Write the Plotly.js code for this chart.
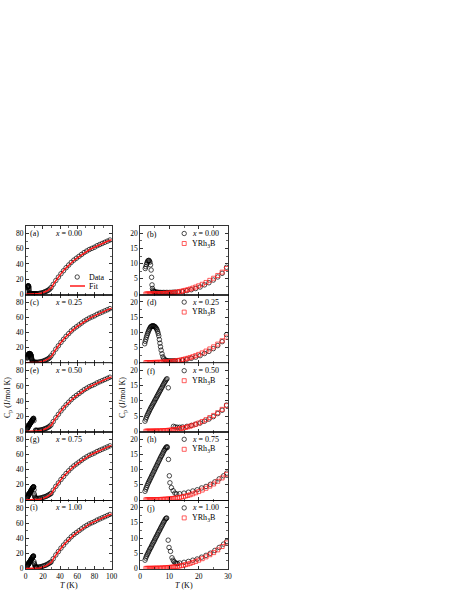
<!DOCTYPE html>
<html>
<head>
<meta charset="utf-8">
<script src="https://cdn.plot.ly/plotly-3.0.1.min.js"></script>
<style>
body{margin:0;background:#fff}
#myDiv{width:457px;height:591px}
</style>
</head>
<body>
<div id="myDiv"></div>
<script>
// compositions and panel letters
let samples = ["0.00", "0.25", "0.50", "0.75", "1.00"]
let panelLeft = ["(a)", "(c)", "(e)", "(g)", "(i)"]
let panelRight = ["(b)", "(d)", "(f)", "(h)", "(j)"]

// low temperature Cp data (T in K, Cp in J/mol K), one pair per sample
let lowT0 = [1.8,2.0,2.2,2.4,2.6,2.8,3.0,3.2,3.4,3.6,3.8,3.95,4.1,4.25,4.4,4.6,4.8,5.1,5.4,5.8,6.2,6.6,7.0,7.5,8.0,8.5,9.0,9.5,10.0,10.5,11.0,11.5,12.0,13.0,14.5,16.0,17.5,19.0,20.5,22.0,23.5,25.0,26.5,28.0,29.5]
let lowCp0 = [8.4,9.0,9.7,10.3,10.8,11.0,11.1,10.9,10.5,9.6,7.9,5.5,3.0,1.8,1.2,0.9,0.8,0.7,0.65,0.6,0.55,0.5,0.5,0.5,0.5,0.5,0.5,0.5,0.5,0.5,0.55,0.55,0.6,0.65,0.8,1.1,1.4,1.8,2.3,3.0,3.7,4.6,5.6,6.8,8.8]

let lowT1 = [1.6,1.8,2.0,2.2,2.4,2.6,2.8,3.0,3.2,3.4,3.6,3.8,4.0,4.2,4.4,4.6,4.8,5.0,5.2,5.4,5.6,5.8,6.0,6.2,6.4,6.6,6.8,7.0,7.2,7.5,7.8,8.1,8.5,9.0,9.5,10.0,10.5,11.0,11.5,12.0,13.0,14.5,16.0,17.5,19.0,20.5,22.0,23.5,25.0,26.5,28.0,29.5]
let lowCp1 = [6.2,7.0,7.7,8.4,9.0,9.6,10.1,10.6,11.0,11.4,11.7,11.9,12.0,12.1,12.1,12.1,12.0,11.9,11.7,11.5,11.2,10.8,10.3,9.6,8.8,7.6,6.4,5.2,4.1,2.9,1.9,1.3,0.9,0.7,0.6,0.55,0.55,0.55,0.55,0.6,0.65,0.8,1.1,1.4,1.8,2.3,3.0,3.7,4.6,5.6,6.9,9.2]

let lowT2 = [1.7,1.95,2.2,2.45,2.7,2.95,3.2,3.45,3.7,3.95,4.2,4.45,4.7,4.95,5.2,5.45,5.7,5.95,6.2,6.45,6.7,6.95,7.2,7.45,7.7,7.95,8.2,8.45,8.7,8.95,9.2,9.65,11.4,12.0,12.7,13.5,14.5,16.0,17.5,19.0,20.5,22.0,23.5,25.0,26.5,28.0,29.5]
let lowCp2 = [3.3,4.0,4.6,5.2,5.7,6.2,6.7,7.2,7.7,8.1,8.6,9.0,9.5,9.9,10.4,10.8,11.3,11.7,12.2,12.6,13.1,13.5,14.0,14.4,14.9,15.3,15.8,16.2,16.6,17.0,17.3,14.3,1.6,1.4,1.3,1.3,1.4,1.6,1.9,2.3,2.7,3.3,4.0,4.8,5.8,6.9,8.6]

let lowT3 = [1.7,1.95,2.2,2.45,2.7,2.95,3.2,3.45,3.7,3.95,4.2,4.45,4.7,4.95,5.2,5.45,5.7,5.95,6.2,6.45,6.7,6.95,7.2,7.45,7.7,7.95,8.2,8.45,8.7,8.95,9.2,9.3,9.7,10.0,10.2,10.7,11.3,11.9,12.5,13.5,15.0,16.5,18.0,19.5,21.0,22.5,24.0,25.5,27.0,28.5,29.6]
let lowCp3 = [2.8,3.5,4.1,4.7,5.3,5.8,6.3,6.8,7.3,7.8,8.3,8.8,9.3,9.8,10.3,10.8,11.3,11.8,12.3,12.8,13.3,13.8,14.3,14.7,15.2,15.7,16.2,16.6,17.0,17.3,17.5,17.2,13.3,7.9,5.6,4.0,3.0,2.2,1.9,2.0,2.2,2.5,2.9,3.3,3.9,4.4,5.1,5.9,6.9,7.9,8.8]

let lowT4 = [1.7,1.95,2.2,2.45,2.7,2.95,3.2,3.45,3.7,3.95,4.2,4.45,4.7,4.95,5.2,5.45,5.7,5.95,6.2,6.45,6.7,6.95,7.2,7.45,7.7,7.95,8.2,8.45,8.7,8.95,9.1,9.6,9.9,10.4,10.9,11.3,11.6,12.0,12.4,12.8,13.5,15.0,16.5,18.0,19.5,21.0,22.5,24.0,25.5,27.0,28.5,29.6]
let lowCp4 = [2.7,3.4,4.0,4.5,5.0,5.5,6.0,6.5,6.9,7.4,7.9,8.4,8.8,9.3,9.8,10.3,10.7,11.2,11.7,12.2,12.6,13.1,13.6,14.0,14.5,15.0,15.4,15.9,16.3,16.5,16.6,9.3,6.9,5.6,3.5,2.7,2.2,1.9,1.6,1.6,1.8,2.0,2.3,2.7,3.1,3.7,4.3,5.0,5.9,6.9,8.0,8.9]

let lowT = [lowT0, lowT1, lowT2, lowT3, lowT4]
let lowCp = [lowCp0, lowCp1, lowCp2, lowCp3, lowCp4]

// high temperature data (left panels)
let highT = [32,35,38,41,44,47,50,53,56,59,62,65,68,71,74,77,80,83,86,89,92,95,98]
let highCp = [13,18,22.5,27,31,35,38.5,42,45,47.5,50,52.5,55,57,59,60.5,62,64,65.5,67,68.5,70,71.5]

// fit curve
let fitT = [0,4,8,12,14,16,18,20,22,24,26,28,30,33,36,40,45,50,55,60,65,70,75,80,85,90,95,100]
let fitCp = [0,0,0.05,0.3,0.55,0.9,1.4,2.0,2.9,3.9,5.2,6.6,8.6,14.5,19.5,25.5,32.5,38.5,43.5,48,52,56,59.3,62,64.8,67.3,69.8,72]

// reference compound YRh3B
let refT = [2.0,2.4,2.8,3.2,3.6,4.0,4.4,4.8,5.2,5.6,6.0,6.5,7.0,7.5,8.0,8.5,9.0,9.5,10,10.5,11,11.5,12,12.7,13.4,14.1,14.8,15.5,16.3,17.1,18,19,20,21.2,22.5,23.8,25.1,26.5,28,29.5]
let refCp = [0.01,0.01,0.02,0.02,0.03,0.03,0.04,0.05,0.06,0.07,0.08,0.1,0.12,0.14,0.17,0.2,0.23,0.27,0.31,0.36,0.41,0.47,0.54,0.64,0.76,0.9,1.05,1.22,1.42,1.65,1.95,2.3,2.7,3.2,3.8,4.5,5.2,6.1,7.2,8.4]

let W = 457, H = 591
let colX = [[25.7, 111.7], [140, 228]]
let top0 = 226, rowH = 68.6
let red = '#ff1a1a'

function fx(px){ return px / W }
function fy(py){ return 1 - py / H }

let fontName = 'Liberation Serif, Times New Roman, serif'

var layout = {
	width: W,
	height: H,
	margin: {l: 0, r: 0, t: 0, b: 0},
	showlegend: false,
	paper_bgcolor: 'white',
	plot_bgcolor: 'white',
	font: {family: fontName, size: 8, color: 'black'},
	annotations: [],
	shapes: [],
	}

var data = []

function axisBase(){
	return {
		showline: true,
		linecolor: 'black',
		linewidth: 0.8,
		mirror: 'ticks',
		ticks: 'inside',
		ticklen: 3,
		tickwidth: 0.8,
		tickcolor: 'black',
		showgrid: false,
		zeroline: false,
		tickfont: {family: fontName, size: 7.5, color: 'black'},
		fixedrange: true,
		}
	}

function note(text, x, y, xanchor, extra){
	let a = {text: text, xref: 'paper', yref: 'paper', x: fx(x), y: fy(y),
		xanchor: xanchor, yanchor: 'middle', showarrow: false,
		font: {family: fontName, size: 8, color: 'black'}}
	return Object.assign(a, extra || {})
	}

for (let r = 0; r < 5; r++){
	let yTop = top0 + r * rowH
	let yBot = yTop + rowH
	let dy = r * rowH
	for (let c = 0; c < 2; c++){
		let n = 2 * r + c + 1
		let xa = Object.assign(axisBase(), {
			domain: [fx(colX[c][0]), fx(colX[c][1])],
			anchor: 'y' + n,
			range: c == 0 ? [0, 100] : [0, 30],
			dtick: c == 0 ? 20 : 10,
			tick0: 0,
			minor: {ticks: 'inside', ticklen: 1.8, tickwidth: 0.6, tickcolor: 'black', dtick: c == 0 ? 10 : 5},
			showticklabels: r == 4,
			})
		let ya = Object.assign(axisBase(), {
			domain: [fy(yBot), fy(yTop)],
			anchor: 'x' + n,
			range: c == 0 ? [-0.5, 90] : [-0.2, 22.4],
			dtick: c == 0 ? 20 : 5,
			tick0: 0,
			minor: {ticks: 'inside', ticklen: 1.8, tickwidth: 0.6, tickcolor: 'black', dtick: c == 0 ? 10 : 2.5},
			})
		layout['xaxis' + (n == 1 ? '' : n)] = xa
		layout['yaxis' + (n == 1 ? '' : n)] = ya
		}

	let nl = 2 * r + 1, nr = 2 * r + 2
	// left panel: data + fit
	data.push({
		x: lowT[r].concat(highT), y: lowCp[r].concat(highCp),
		xaxis: 'x' + (nl == 1 ? '' : nl), yaxis: 'y' + (nl == 1 ? '' : nl),
		mode: 'markers', type: 'scatter',
		marker: {symbol: 'circle-open', size: 4.5, color: 'black', line: {width: 0.7, color: 'black'}},
		})
	data.push({
		x: fitT, y: fitCp,
		xaxis: 'x' + (nl == 1 ? '' : nl), yaxis: 'y' + (nl == 1 ? '' : nl),
		mode: 'lines', type: 'scatter',
		line: {color: red, width: 1.5},
		})
	// right panel: data + YRh3B
	data.push({
		x: lowT[r], y: lowCp[r],
		xaxis: 'x' + nr, yaxis: 'y' + nr,
		mode: 'markers', type: 'scatter',
		marker: {symbol: 'circle-open', size: 4.5, color: 'black', line: {width: 0.7, color: 'black'}},
		})
	data.push({
		x: refT, y: refCp,
		xaxis: 'x' + nr, yaxis: 'y' + nr,
		mode: 'markers', type: 'scatter',
		marker: {symbol: 'square-open', size: 4, color: red, line: {width: 0.7, color: red}},
		})

	// labels
	layout.annotations.push(note(panelLeft[r], 28, 233.5 + dy, 'left'))
	layout.annotations.push(note('<i>x</i> = ' + samples[r], 68, 233.5 + dy, 'center'))
	layout.annotations.push(note(panelRight[r], 145, 234 + dy, 'left'))
	layout.annotations.push(note('<i>x</i> = ' + samples[r], 190, 233.5 + dy, 'left'))
	layout.annotations.push(note('YRh<sub>3</sub>B', 190, 243.5 + dy, 'left'))

	// legend keys
	let cy = 233.5 + dy
	layout.shapes.push({type: 'circle', xref: 'paper', yref: 'paper',
		x0: fx(182), x1: fx(186.4), y0: fy(cy + 2.2), y1: fy(cy - 2.2),
		line: {color: 'black', width: 0.7}})
	let sy = 243.5 + dy
	layout.shapes.push({type: 'rect', xref: 'paper', yref: 'paper',
		x0: fx(182.2), x1: fx(186.2), y0: fy(sy + 2), y1: fy(sy - 2),
		line: {color: red, width: 0.7}})
	}

// legend of panel (a)
layout.shapes.push({type: 'circle', xref: 'paper', yref: 'paper',
	x0: fx(75), x1: fx(79.4), y0: fy(279.2), y1: fy(274.8),
	line: {color: 'black', width: 0.7}})
layout.shapes.push({type: 'line', xref: 'paper', yref: 'paper',
	x0: fx(70), x1: fx(85), y0: fy(286), y1: fy(286),
	line: {color: red, width: 1.5}})
layout.annotations.push(note('Data', 86.5, 277, 'left'))
layout.annotations.push(note('Fit', 87, 286, 'left'))

// axis titles
layout.annotations.push(note('C<sub>p</sub> (J/mol K)', 7.5, 397.5, 'center', {textangle: -90}))
layout.annotations.push(note('C<sub>p</sub> (J/mol K)', 122.5, 397.5, 'center', {textangle: -90}))
layout.annotations.push(note('<i>T</i> (K)', 69, 585, 'center'))
layout.annotations.push(note('<i>T</i> (K)', 184, 585, 'center'))

Plotly.newPlot('myDiv', data, layout, {staticPlot: true})
</script>
</body>
</html>
